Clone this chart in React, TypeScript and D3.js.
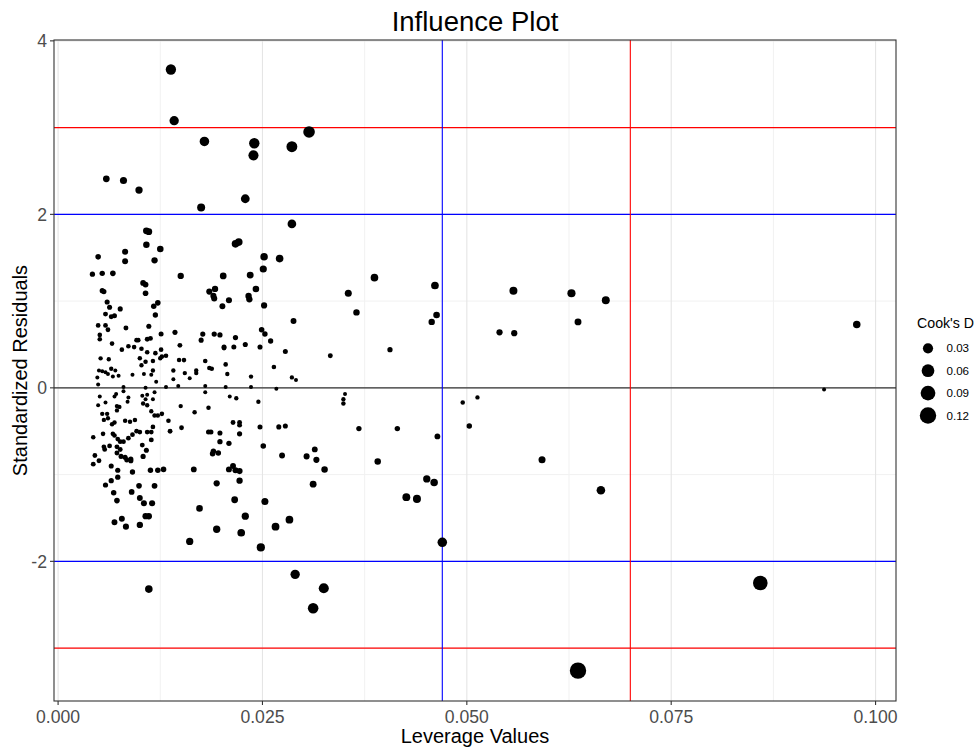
import React from "react";
import * as d3 from "d3";

// values
const leverage = [
  0.0138, 0.0142, 0.0179, 0.024, 0.0239, 0.0286, 0.0307, 0.0059, 0.008, 0.0099,
  0.0229, 0.0175, 0.0286, 0.0108, 0.0111, 0.0108, 0.0125, 0.0217, 0.0221, 0.0049,
  0.0082, 0.0082, 0.0118, 0.0252, 0.0271, 0.0042, 0.0054, 0.0067, 0.015, 0.0202,
  0.0235, 0.0251, 0.0104, 0.0107, 0.0054, 0.0056, 0.0107, 0.0185, 0.0192, 0.019,
  0.0191, 0.0209, 0.0233, 0.0234, 0.0242, 0.006, 0.0063, 0.0058, 0.0076, 0.0065,
  0.0069, 0.0122, 0.0117, 0.0201, 0.0252, 0.0119, 0.0288, 0.0049, 0.0058, 0.0061,
  0.0083, 0.0111, 0.0051, 0.0051, 0.0066, 0.0126, 0.0143, 0.0177, 0.0175, 0.0191,
  0.0198, 0.0217, 0.0249, 0.0253, 0.026, 0.0278, 0.0096, 0.0098, 0.0109, 0.0113,
  0.0086, 0.0093, 0.0078, 0.0102, 0.0109, 0.0119, 0.0126, 0.0132, 0.0149, 0.0203,
  0.0203, 0.0215, 0.0229, 0.0247, 0.0052, 0.0062, 0.01, 0.0107, 0.0116, 0.0125,
  0.0127, 0.0148, 0.0154, 0.018, 0.0185, 0.0188, 0.0205, 0.0264, 0.0333, 0.0048,
  0.005, 0.0054, 0.0058, 0.0061, 0.0065, 0.007, 0.0067, 0.0074, 0.0091, 0.0102,
  0.0105, 0.0116, 0.0114, 0.012, 0.0141, 0.0141, 0.0155, 0.0161, 0.0169, 0.0169,
  0.0132, 0.0147, 0.018, 0.018, 0.0207, 0.0205, 0.0236, 0.0236, 0.0267, 0.0286,
  0.0291, 0.0049, 0.008, 0.008, 0.0107, 0.0051, 0.0049, 0.0058, 0.0071, 0.0069,
  0.0072, 0.0075, 0.0086, 0.0085, 0.0103, 0.0109, 0.0107, 0.0116, 0.0104, 0.0109,
  0.0118, 0.021, 0.0218, 0.0245, 0.015, 0.0184, 0.0054, 0.006, 0.0056, 0.0061,
  0.0066, 0.0069, 0.0072, 0.0114, 0.0118, 0.0122, 0.0127, 0.0082, 0.0088, 0.0094,
  0.0167, 0.0135, 0.0043, 0.0055, 0.0067, 0.0069, 0.0073, 0.0076, 0.008, 0.0086,
  0.0091, 0.0096, 0.01, 0.0109, 0.0114, 0.0116, 0.0137, 0.0151, 0.0114, 0.0184,
  0.0187, 0.0198, 0.0214, 0.0222, 0.0222, 0.0222, 0.0247, 0.027, 0.0278, 0.0198,
  0.0209, 0.0056, 0.0057, 0.0063, 0.0072, 0.0076, 0.0045, 0.0077, 0.0082, 0.0084,
  0.0089, 0.0089, 0.0072, 0.0043, 0.005, 0.0065, 0.0073, 0.0103, 0.0108, 0.0104,
  0.0189, 0.019, 0.0196, 0.0251, 0.0274, 0.0304, 0.0314, 0.0316, 0.0326, 0.0091,
  0.0113, 0.0122, 0.0129, 0.0166, 0.0209, 0.0214, 0.0217, 0.0222, 0.0058, 0.0065,
  0.0073, 0.0118, 0.0194, 0.0222, 0.0312, 0.0068, 0.009, 0.0099, 0.01, 0.0105,
  0.0072, 0.0115, 0.0216, 0.0253, 0.0173, 0.0069, 0.0078, 0.0083, 0.01, 0.0107,
  0.0111, 0.0161, 0.0194, 0.0229, 0.0224, 0.0248, 0.0266, 0.0283, 0.0111, 0.029,
  0.0312, 0.0325, 0.0355, 0.0365, 0.0387, 0.0406, 0.0461, 0.0463, 0.0457, 0.0557,
  0.054, 0.0558, 0.0628, 0.0636, 0.067, 0.0351, 0.0349, 0.0349, 0.0495, 0.0513,
  0.0368, 0.0415, 0.0464, 0.0503, 0.0391, 0.0451, 0.046, 0.0426, 0.0439, 0.0592,
  0.0664, 0.047, 0.0636, 0.0977, 0.0937, 0.0859,
];

const residuals = [
  3.67, 3.08, 2.84, 2.82, 2.68, 2.78, 2.95, 2.41, 2.39, 2.28,
  2.18, 2.08, 1.89, 1.81, 1.8, 1.65, 1.6, 1.66, 1.68, 1.51,
  1.57, 1.46, 1.47, 1.51, 1.49, 1.31, 1.32, 1.32, 1.29, 1.29,
  1.3, 1.37, 1.21, 1.19, 1.12, 1.11, 1.09, 1.11, 1.14, 1.06,
  1.03, 1.01, 1.06, 1.02, 1.14, 0.99, 0.93, 0.85, 0.91, 0.82,
  0.83, 0.98, 0.94, 0.94, 0.95, 0.84, 0.77, 0.72, 0.72, 0.67,
  0.69, 0.71, 0.61, 0.56, 0.51, 0.62, 0.64, 0.62, 0.55, 0.62,
  0.61, 0.58, 0.67, 0.62, 0.54, 0.42, 0.55, 0.55, 0.56, 0.57,
  0.48, 0.47, 0.44, 0.45, 0.41, 0.4, 0.44, 0.37, 0.49, 0.47,
  0.46, 0.47, 0.5, 0.47, 0.34, 0.33, 0.34, 0.3, 0.31, 0.34,
  0.36, 0.32, 0.32, 0.31, 0.23, 0.22, 0.27, 0.24, 0.37, 0.12,
  0.2, 0.19, 0.18, 0.16, 0.22, 0.2, 0.13, 0.14, 0.15, 0.26,
  0.16, 0.2, 0.15, 0.07, 0.2, 0.1, 0.17, 0.11, 0.2, 0.17,
  0.01, 0.02, 0.02, -0.05, 0.16, 0.01, 0.13, 0.01, -0.01, 0.12,
  0.09, 0.04, 0.01, -0.04, 0.0, -0.1, -0.2, -0.17, -0.07, -0.1,
  -0.21, -0.22, -0.11, -0.16, -0.09, -0.08, -0.13, -0.13, -0.18, -0.2,
  -0.05, -0.1, -0.12, -0.16, -0.21, -0.23, -0.3, -0.3, -0.37, -0.35,
  -0.42, -0.4, -0.26, -0.27, -0.32, -0.32, -0.3, -0.38, -0.39, -0.37,
  -0.28, -0.38, -0.57, -0.53, -0.53, -0.55, -0.59, -0.62, -0.62, -0.58,
  -0.54, -0.5, -0.51, -0.51, -0.51, -0.45, -0.5, -0.46, -0.6, -0.51,
  -0.51, -0.52, -0.4, -0.4, -0.43, -0.53, -0.45, -0.45, -0.44, -0.62,
  -0.64, -0.68, -0.71, -0.67, -0.68, -0.71, -0.78, -0.79, -0.8, -0.83,
  -0.84, -0.82, -0.75, -0.88, -0.84, -0.9, -0.95, -0.66, -0.72, -0.79,
  -0.76, -0.73, -0.75, -0.67, -0.78, -0.79, -0.71, -0.83, -0.94, -0.97,
  -0.95, -0.95, -0.94, -0.94, -0.94, -0.9, -0.95, -0.96, -1.12, -1.07,
  -1.03, -1.13, -1.1, -1.07, -1.11, -1.21, -1.2, -1.13, -1.27, -1.33,
  -1.3, -1.33, -1.29, -1.31, -1.39, -1.55, -1.51, -1.6, -1.58, -1.48,
  -1.48, -1.77, -1.63, -1.48, -1.67, -1.84, -1.6, -1.52, -2.32, -2.15,
  -2.54, -2.31, 1.09, 0.87, 1.27, 0.44, 1.18, 0.84, 0.76, 1.12,
  0.64, 0.63, 1.09, 0.76, 1.01, -0.07, -0.13, -0.18, -0.17, -0.11,
  -0.47, -0.47, -0.56, -0.44, -0.85, -1.05, -1.09, -1.26, -1.28, -0.83,
  -1.18, -1.78, -3.26, 0.73, -0.02, -2.25,
];

const cooksD = [
  0.031, 0.022, 0.024, 0.032, 0.029, 0.037, 0.045, 0.0057, 0.0076, 0.0086,
  0.0181, 0.0126, 0.017, 0.0059, 0.006, 0.0049, 0.0053, 0.01, 0.0104, 0.0019,
  0.0033, 0.0029, 0.0042, 0.0096, 0.0101, 0.0012, 0.0016, 0.002, 0.0042, 0.0056,
  0.0066, 0.0079, 0.0025, 0.0025, 0.0011, 0.0011, 0.0021, 0.0038, 0.0042, 0.0035,
  0.0034, 0.0035, 0.0043, 0.0041, 0.0052, 0.001, 0.0009, 0.0007, 0.001, 0.0007,
  0.0008, 0.002, 0.0017, 0.0029, 0.0038, 0.0014, 0.0029, 0.0004, 0.0005, 0.0005,
  0.0007, 0.0009, 0.0003, 0.0003, 0.0003, 0.0008, 0.001, 0.0011, 0.0009, 0.0012,
  0.0012, 0.0012, 0.0019, 0.0016, 0.0013, 0.0008, 0.0005, 0.0005, 0.0006, 0.0006,
  0.0003, 0.0003, 0.0003, 0.0003, 0.0003, 0.0003, 0.0004, 0.0003, 0.0006, 0.0008,
  0.0007, 0.0008, 0.001, 0.0009, 0.0001, 0.0001, 0.0002, 0.0002, 0.0002, 0.0002,
  0.0003, 0.0002, 0.0003, 0.0003, 0.0002, 0.0002, 0.0003, 0.0003, 0.0007, 0.0,
  0.0, 0.0, 0.0, 0.0, 0.0001, 0.0, 0.0, 0.0, 0.0, 0.0001,
  0.0, 0.0001, 0.0, 0.0, 0.0001, 0.0, 0.0001, 0.0, 0.0001, 0.0001,
  0.0, 0.0, 0.0, 0.0, 0.0001, 0.0, 0.0001, 0.0, 0.0, 0.0001,
  0.0, 0.0, 0.0, 0.0, 0.0, 0.0, 0.0, 0.0, 0.0, 0.0,
  0.0001, 0.0001, 0.0, 0.0, 0.0, 0.0, 0.0, 0.0, 0.0001, 0.0001,
  0.0, 0.0, 0.0001, 0.0001, 0.0001, 0.0002, 0.0001, 0.0001, 0.0001, 0.0001,
  0.0002, 0.0002, 0.0001, 0.0001, 0.0002, 0.0002, 0.0002, 0.0002, 0.0002, 0.0002,
  0.0002, 0.0003, 0.0002, 0.0003, 0.0003, 0.0003, 0.0004, 0.0005, 0.0005, 0.0005,
  0.0004, 0.0004, 0.0004, 0.0005, 0.0005, 0.0004, 0.0006, 0.0005, 0.0007, 0.0008,
  0.0008, 0.0009, 0.0006, 0.0006, 0.0007, 0.0011, 0.0008, 0.0009, 0.0009, 0.0013,
  0.0014, 0.0004, 0.0005, 0.0005, 0.0006, 0.0006, 0.0005, 0.0008, 0.0009, 0.001,
  0.001, 0.001, 0.0007, 0.0006, 0.0006, 0.0009, 0.0011, 0.0007, 0.0009, 0.0011,
  0.0018, 0.0017, 0.0018, 0.0019, 0.0028, 0.0032, 0.0026, 0.0036, 0.0049, 0.0014,
  0.0017, 0.0018, 0.0019, 0.0024, 0.003, 0.0029, 0.0033, 0.0034, 0.0012, 0.0012,
  0.0013, 0.0025, 0.0039, 0.0042, 0.0064, 0.0017, 0.0022, 0.0021, 0.0027, 0.0031,
  0.002, 0.0034, 0.006, 0.0072, 0.0055, 0.0028, 0.003, 0.0035, 0.0042, 0.0039,
  0.0041, 0.0084, 0.0086, 0.0084, 0.0105, 0.0139, 0.0113, 0.0109, 0.01, 0.0224,
  0.0336, 0.0288, 0.0071, 0.0046, 0.0103, 0.0013, 0.0106, 0.0054, 0.0044, 0.0123,
  0.0039, 0.0039, 0.0133, 0.0065, 0.0122, 0.0, 0.0001, 0.0002, 0.0002, 0.0001,
  0.0014, 0.0016, 0.0025, 0.0017, 0.0049, 0.0086, 0.0095, 0.0117, 0.0126, 0.0072,
  0.0164, 0.024, 0.12, 0.0096, 0.0, 0.088,
];

const xTicks = [0, 0.025, 0.05, 0.075, 0.1];
const xMinor = [0.0125, 0.0375, 0.0625, 0.0875];
const yTicks = [-2, 0, 2, 4];
const yMinor = [-3, -1, 1, 3];
const legendValues = [0.03, 0.06, 0.09, 0.12];
const leverageCutoffs = [
  { value: 0.047, color: "blue" },
  { value: 0.07, color: "red" },
];
const residualCutoffs = [
  { value: 2, color: "blue" },
  { value: -2, color: "blue" },
  { value: 3, color: "red" },
  { value: -3, color: "red" },
];

const font = "'Liberation Sans', Arial, sans-serif";

const App = () => {
  const width = 978;
  const height = 749;
  const panel = { left: 54, top: 40, right: 896, bottom: 701 };

  const xScale = d3.scaleLinear().domain([-0.0005, 0.1025]).range([panel.left, panel.right]);
  const yScale = d3.scaleLinear().domain([-3.61, 4.01]).range([panel.bottom, panel.top]);
  // point size: sqrt of Cook's D
  const rScale = d3.scaleSqrt().domain([0, 0.12]).range([2.0, 8.2]);

  const points = leverage.map((h, i) => ({ h, r: residuals[i], d: cooksD[i] }));
  const fmtX = d3.format(".3f");

  return (
    <svg
      width={width}
      height={height}
      style={{ position: "absolute", left: 0, top: 0, background: "#fff" }}
      fontFamily={font}
    >
      <rect x={0} y={0} width={width} height={height} fill="#fff" />

      {/* grid */}
      <g>
        {xMinor.map((v) => (
          <line key={"xm" + v} x1={xScale(v)} x2={xScale(v)} y1={panel.top} y2={panel.bottom} stroke="#f1f1f1" strokeWidth={1} />
        ))}
        {yMinor.map((v) => (
          <line key={"ym" + v} x1={panel.left} x2={panel.right} y1={yScale(v)} y2={yScale(v)} stroke="#f1f1f1" strokeWidth={1} />
        ))}
        {xTicks.map((v) => (
          <line key={"xg" + v} x1={xScale(v)} x2={xScale(v)} y1={panel.top} y2={panel.bottom} stroke="#e5e5e5" strokeWidth={1.1} />
        ))}
        {yTicks.map((v) => (
          <line key={"yg" + v} x1={panel.left} x2={panel.right} y1={yScale(v)} y2={yScale(v)} stroke="#e5e5e5" strokeWidth={1.1} />
        ))}
      </g>

      {/* reference lines */}
      <line x1={panel.left} x2={panel.right} y1={yScale(0)} y2={yScale(0)} stroke="#333" strokeWidth={1.1} />
      {residualCutoffs.map((c) => (
        <line key={"hc" + c.value} x1={panel.left} x2={panel.right} y1={yScale(c.value)} y2={yScale(c.value)} stroke={c.color} strokeWidth={1.1} />
      ))}
      {leverageCutoffs.map((c) => (
        <line key={"vc" + c.value} x1={xScale(c.value)} x2={xScale(c.value)} y1={panel.top} y2={panel.bottom} stroke={c.color} strokeWidth={1.1} />
      ))}

      {/* points */}
      <g>
        {points.map((p, i) => (
          <circle key={i} cx={xScale(p.h)} cy={yScale(p.r)} r={rScale(p.d)} fill="#000" />
        ))}
      </g>

      {/* panel border */}
      <rect
        x={panel.left}
        y={panel.top}
        width={panel.right - panel.left}
        height={panel.bottom - panel.top}
        fill="none"
        stroke="#333"
        strokeWidth={1.1}
      />

      {/* x axis */}
      {xTicks.map((v) => (
        <g key={"xt" + v}>
          <line x1={xScale(v)} x2={xScale(v)} y1={panel.bottom} y2={panel.bottom + 4} stroke="#333" strokeWidth={1.1} />
          <text x={xScale(v)} y={722.5} textAnchor="middle" fontSize={17.6} fill="#4d4d4d">
            {fmtX(v)}
          </text>
        </g>
      ))}
      {/* y axis */}
      {yTicks.map((v) => (
        <g key={"yt" + v}>
          <line x1={panel.left - 4} x2={panel.left} y1={yScale(v)} y2={yScale(v)} stroke="#333" strokeWidth={1.1} />
          <text x={panel.left - 7} y={yScale(v)} dy="0.36em" textAnchor="end" fontSize={17.6} fill="#4d4d4d">
            {String(v)}
          </text>
        </g>
      ))}

      {/* titles */}
      <text x={(panel.left + panel.right) / 2} y={30.5} textAnchor="middle" fontSize={27.5} fill="#000">
        Influence Plot
      </text>
      <text x={(panel.left + panel.right) / 2} y={743} textAnchor="middle" fontSize={20} fill="#000">
        Leverage Values
      </text>
      <text
        transform={`translate(26.5, ${(panel.top + panel.bottom) / 2}) rotate(-90)`}
        textAnchor="middle"
        fontSize={20}
        fill="#000"
      >
        Standardized Residuals
      </text>

      {/* legend */}
      <g>
        <text x={917} y={328} fontSize={14.2} fill="#000">
          Cook's D
        </text>
        {legendValues.map((v, i) => (
          <g key={"lg" + v}>
            <circle cx={928} cy={348.3 + i * 22.4} r={rScale(v)} fill="#000" />
            <text x={946.5} y={348.3 + i * 22.4} dy="0.36em" fontSize={11.6} fill="#000">
              {v.toFixed(2)}
            </text>
          </g>
        ))}
      </g>
    </svg>
  );
};

export default App;
